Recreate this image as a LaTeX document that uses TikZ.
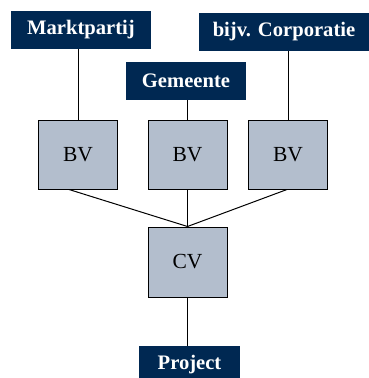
\documentclass[tikz,border=0pt]{standalone}
\usepackage{fontspec}
\setmainfont{Liberation Serif}
\definecolor{navy}{RGB}{0,40,82}
\definecolor{bvgrey}{RGB}{179,190,205}
\begin{document}
\begin{tikzpicture}[x=1pt,y=-1pt,
  party/.style={rectangle,fill=navy,text=white,font=\fontsize{20.6}{22}\selectfont\bfseries,inner sep=0pt},
  vbox/.style={rectangle,draw=black,line width=1pt,fill=bvgrey,font=\fontsize{21.5}{23}\selectfont,inner sep=0pt,minimum width=79pt,minimum height=69pt},
  link/.style={draw=black,line width=1pt}]
\useasboundingbox (0,0) rectangle (368,378);
\node[party,minimum width=140pt,minimum height=38pt] (mp) at (81,30) {Marktpartij};
\node[party,minimum width=170pt,minimum height=38pt] (corp) at (284,32) {bijv. Corporatie};
\node[party,minimum width=120pt,minimum height=38pt] (gem) at (186,81) {Gemeente};
\node[vbox] (bv1) at (78,154.5) {BV};
\node[vbox] (bv2) at (187.5,154.5) {BV};
\node[vbox] (bv3) at (288,154.5) {BV};
\node[vbox,minimum height=70pt] (cv) at (187.5,262) {CV};
\node[party,minimum width=101pt,minimum height=38pt] (proj) at (189.5,365) {Project};
\draw[link] (mp.south -| bv1.north) -- (bv1.north);
\draw[link] (gem.south -| bv2.north) -- (bv2.north);
\draw[link] (corp.south -| bv3.north) -- (bv3.north);
\draw[link] ([xshift=-9pt]bv1.south) -- (cv.north);
\draw[link] (bv2.south) -- (cv.north);
\draw[link] ([xshift=-1pt]bv3.south) -- (cv.north);
\draw[link] (cv.south) -- (cv.south |- proj.north);
\end{tikzpicture}
\end{document}
